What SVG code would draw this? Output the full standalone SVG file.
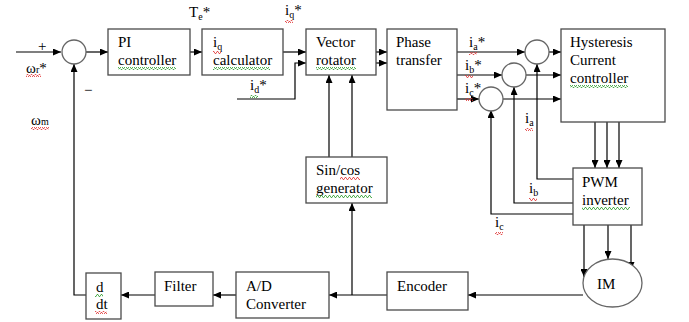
<svg xmlns="http://www.w3.org/2000/svg" width="689" height="322" viewBox="0 0 689 322">
<style>
.box{fill:#fff;stroke:#4a4a4a;stroke-width:1.3}
.sum{fill:#fff;stroke:#666;stroke-width:1.3}
.ln{fill:none;stroke:#000;stroke-width:1.2}
text{font-family:'Liberation Serif','DejaVu Serif',serif;font-size:15px;fill:#000}
.sub{font-size:10px}
</style>
<defs>
<marker id="ar" markerWidth="8" markerHeight="7" refX="8" refY="3.5" orient="auto" markerUnits="userSpaceOnUse">
<path d="M0,0 L8,3.5 L0,7 z" fill="#000"/>
</marker>
<pattern id="sr" width="4" height="3" patternUnits="userSpaceOnUse">
<polyline points="0,2.5 1,0.5 2,0.5 3,2.5 4,2.5" fill="none" stroke="#e03030" stroke-width="0.8"/>
</pattern>
<pattern id="sg" width="4" height="3" patternUnits="userSpaceOnUse">
<polyline points="0,2.5 1,0.5 2,0.5 3,2.5 4,2.5" fill="none" stroke="#2a9a2a" stroke-width="0.8"/>
</pattern>
</defs>

<g id="connectors">
<path class="ln" d="M16,52 H61" marker-end="url(#ar)"/>
<path class="ln" d="M86,52 H108" marker-end="url(#ar)"/>
<path class="ln" d="M86,295 H74 V64" marker-end="url(#ar)"/>
<path class="ln" d="M190,52 H202" marker-end="url(#ar)"/>
<path class="ln" d="M283,52 H306" marker-end="url(#ar)"/>
<path class="ln" d="M237,99 H295 V63 H306" marker-end="url(#ar)"/>
<path class="ln" d="M376,52 H387" marker-end="url(#ar)"/>
<path class="ln" d="M376,63 H387" marker-end="url(#ar)"/>
<path class="ln" d="M329,157 V75" marker-end="url(#ar)"/>
<path class="ln" d="M352,157 V75" marker-end="url(#ar)"/>
<path class="ln" d="M457,52 H525" marker-end="url(#ar)"/>
<path class="ln" d="M549,52 H561" marker-end="url(#ar)"/>
<path class="ln" d="M457,75 H502" marker-end="url(#ar)"/>
<path class="ln" d="M526,75 H561" marker-end="url(#ar)"/>
<path class="ln" d="M457,99 H479" marker-end="url(#ar)"/>
<path class="ln" d="M503,99 H561" marker-end="url(#ar)"/>
<path class="ln" d="M595,122 V168" marker-end="url(#ar)"/>
<path class="ln" d="M607,122 V168" marker-end="url(#ar)"/>
<path class="ln" d="M619,122 V168" marker-end="url(#ar)"/>
<path class="ln" d="M573,179 H537 V64" marker-end="url(#ar)"/>
<path class="ln" d="M573,203 H514 V87" marker-end="url(#ar)"/>
<path class="ln" d="M573,214 H491 V110" marker-end="url(#ar)"/>
<path class="ln" d="M584,225 V277" marker-end="url(#ar)"/>
<path class="ln" d="M608,225 V259" marker-end="url(#ar)"/>
<path class="ln" d="M631,225 V270" marker-end="url(#ar)"/>
<path class="ln" d="M583,295 H468" marker-end="url(#ar)"/>
<path class="ln" d="M387,295 H329" marker-end="url(#ar)"/>
<path class="ln" d="M352,295 V203" marker-end="url(#ar)"/>
<path class="ln" d="M236,295 H213" marker-end="url(#ar)"/>
<path class="ln" d="M155,295 H121" marker-end="url(#ar)"/>
</g>

<g id="sum1"><circle class="sum" cx="74" cy="52" r="12"/></g>
<g id="sumA"><circle class="sum" cx="537" cy="52" r="12"/></g>
<g id="sumB"><circle class="sum" cx="514" cy="75" r="12"/></g>
<g id="sumC"><circle class="sum" cx="491" cy="99" r="12"/></g>

<g id="labels">
<text x="38" y="51">+</text>
<text x="26" y="73">ω<tspan class="sub">r</tspan>*</text>
<rect x="26" y="74" width="15" height="3" fill="url(#sr)"/>
<text x="84" y="95">−</text>
<text x="31" y="125">ω<tspan class="sub">m</tspan></text>
<rect x="31" y="127" width="18" height="3" fill="url(#sr)"/>
<text x="189" y="17">T<tspan class="sub" dy="3">e</tspan><tspan dy="-3">*</tspan></text>
<text x="285" y="15">i<tspan class="sub" dy="3">q</tspan><tspan dy="-3">*</tspan></text>
<rect x="285" y="20" width="8" height="3" fill="url(#sr)"/>
<text x="250" y="90">i<tspan class="sub" dy="3">d</tspan><tspan dy="-3">*</tspan></text>
<rect x="250" y="95" width="8" height="3" fill="url(#sg)"/>
<text x="469" y="47">i<tspan class="sub" dy="3">a</tspan><tspan dy="-3">*</tspan></text>
<rect x="469" y="52" width="8" height="3" fill="url(#sr)"/>
<text x="465" y="70">i<tspan class="sub" dy="3">b</tspan><tspan dy="-3">*</tspan></text>
<rect x="465" y="75" width="8" height="3" fill="url(#sr)"/>
<text x="465" y="93">i<tspan class="sub" dy="3">c</tspan><tspan dy="-3">*</tspan></text>
<rect x="465" y="98" width="8" height="3" fill="url(#sr)"/>
<text x="525" y="123">i<tspan class="sub" dy="3">a</tspan></text>
<rect x="525" y="128" width="8" height="3" fill="url(#sr)"/>
<text x="529" y="193">i<tspan class="sub" dy="3">b</tspan></text>
<rect x="529" y="198" width="8" height="3" fill="url(#sr)"/>
<text x="495" y="227">i<tspan class="sub" dy="3">c</tspan></text>
<rect x="495" y="232" width="8" height="3" fill="url(#sr)"/>
</g>

<g id="pi">
<rect class="box" x="108" y="29" width="82" height="46"/>
<text x="118" y="47">PI</text>
<text x="118" y="65">controller</text>
<rect x="118" y="67" width="58" height="3" fill="url(#sg)"/>
</g>

<g id="iqcalc">
<rect class="box" x="202" y="29" width="81" height="46"/>
<text x="213" y="47">i<tspan class="sub" dy="3">q</tspan></text>
<rect x="213" y="51" width="8" height="3" fill="url(#sr)"/>
<text x="213" y="65">calculator</text>
<rect x="213" y="67" width="57" height="3" fill="url(#sg)"/>
</g>

<g id="vrot">
<rect class="box" x="306" y="29" width="70" height="46"/>
<text x="316" y="47">Vector</text>
<text x="316" y="65">rotator</text>
<rect x="316" y="67" width="40" height="3" fill="url(#sg)"/>
</g>

<g id="phase">
<rect class="box" x="387" y="29" width="70" height="81"/>
<text x="396" y="47">Phase</text>
<text x="396" y="65">transfer</text>
</g>

<g id="hyst">
<rect class="box" x="561" y="29" width="104" height="93"/>
<text x="570" y="47">Hysteresis</text>
<text x="570" y="65">Current</text>
<text x="570" y="83">controller</text>
<rect x="570" y="85" width="58" height="3" fill="url(#sg)"/>
</g>

<g id="sincos">
<rect class="box" x="306" y="157" width="81" height="46"/>
<text x="316" y="175">Sin/cos</text>
<rect x="340" y="177" width="20" height="3" fill="url(#sr)"/>
<text x="316" y="193">generator</text>
<rect x="316" y="195" width="56" height="3" fill="url(#sg)"/>
</g>

<g id="pwm">
<rect class="box" x="573" y="168" width="69" height="57"/>
<text x="582" y="187">PWM</text>
<text x="582" y="205">inverter</text>
<rect x="582" y="207" width="48" height="3" fill="url(#sg)"/>
</g>

<g id="im">
<ellipse class="sum" cx="612.5" cy="283" rx="29.5" ry="24"/>
<text x="597" y="289">IM</text>
</g>

<g id="encoder">
<rect class="box" x="387" y="272" width="81" height="38"/>
<text x="397" y="291">Encoder</text>
</g>

<g id="adc">
<rect class="box" x="236" y="272" width="93" height="46"/>
<text x="246" y="291">A/D</text>
<text x="246" y="309">Converter</text>
</g>

<g id="filter">
<rect class="box" x="155" y="272" width="58" height="34"/>
<text x="164" y="291">Filter</text>
</g>

<g id="ddt">
<rect class="box" x="86" y="273" width="35" height="46"/>
<text x="96" y="292">d</text>
<rect x="95" y="294" width="8" height="3" fill="url(#sg)"/>
<text x="96" y="309">dt</text>
<rect x="95" y="311" width="12" height="3" fill="url(#sr)"/>
</g>
</svg>
